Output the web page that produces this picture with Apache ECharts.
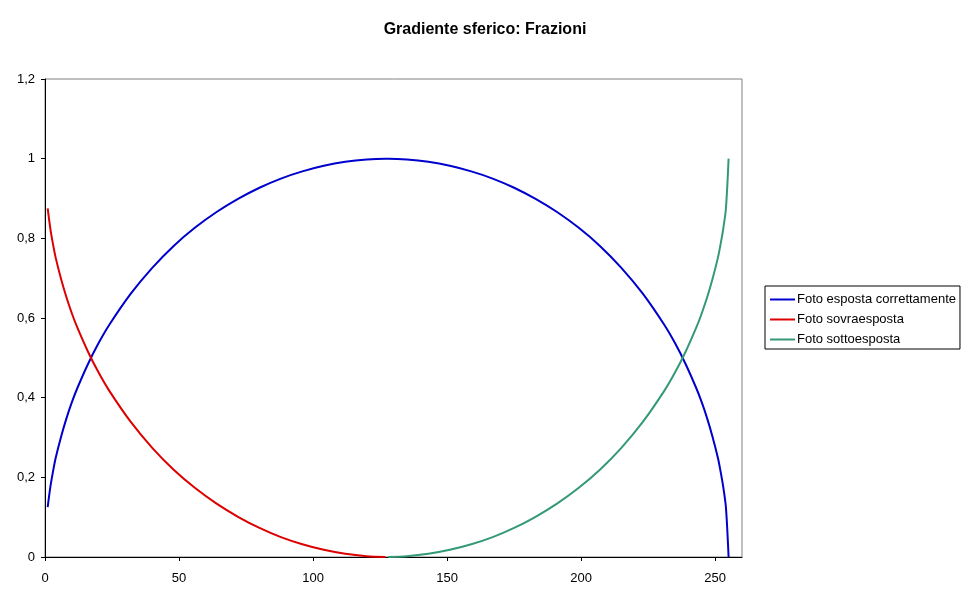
<!DOCTYPE html>
<html>
<head>
<meta charset="utf-8">
<script src="https://cdn.jsdelivr.net/npm/echarts@6/dist/echarts.min.js"></script>
<style>html,body{margin:0;padding:0;background:#fff}#c{width:970px;height:603px}</style>
</head>
<body>
<div id="c"></div>
<script>
const chartTitle = "Gradiente sferico: Frazioni";
const seriesNames = ["Foto esposta correttamente", "Foto sovraesposta", "Foto sottoesposta"];
const xTicks = [0, 50, 100, 150, 200, 250];

const blueX = [1, 2, 3, 4, 6, 8, 10, 12, 16, 20, 24, 32, 40, 48, 56, 64, 72, 80, 88, 96, 104, 112, 120, 127, 128, 135, 143, 151, 159, 167, 175, 183, 191, 199, 207, 215, 223, 231, 235, 239, 243, 245, 247, 249, 251, 252, 253, 254, 255];
const blueY = [0.125, 0.176, 0.215, 0.249, 0.302, 0.348, 0.388, 0.423, 0.484, 0.537, 0.583, 0.661, 0.726, 0.781, 0.827, 0.866, 0.899, 0.927, 0.950, 0.968, 0.982, 0.992, 0.998, 1.0, 1.0, 0.998, 0.992, 0.982, 0.968, 0.950, 0.927, 0.899, 0.866, 0.827, 0.781, 0.726, 0.661, 0.583, 0.537, 0.484, 0.423, 0.388, 0.348, 0.302, 0.249, 0.215, 0.176, 0.125, 0.0];

const redX = [1, 2, 3, 4, 6, 8, 10, 12, 16, 20, 24, 32, 40, 48, 56, 64, 72, 80, 88, 96, 104, 112, 120, 127];
const redY = [0.875, 0.824, 0.785, 0.751, 0.698, 0.652, 0.612, 0.577, 0.516, 0.463, 0.417, 0.339, 0.274, 0.219, 0.173, 0.134, 0.101, 0.073, 0.050, 0.032, 0.018, 0.008, 0.002, 0.0];

const greenX = [128, 135, 143, 151, 159, 167, 175, 183, 191, 199, 207, 215, 223, 231, 235, 239, 243, 245, 247, 249, 251, 252, 253, 254, 255];
const greenY = [0.0, 0.002, 0.008, 0.018, 0.032, 0.050, 0.073, 0.101, 0.134, 0.173, 0.219, 0.274, 0.339, 0.417, 0.463, 0.516, 0.577, 0.612, 0.652, 0.698, 0.751, 0.785, 0.824, 0.875, 1.0];

const zip = (xs, ys) => xs.map((x, i) => [x, ys[i]]);
const FONT = "'Liberation Sans', Arial, sans-serif";

const chart = echarts.init(document.getElementById('c'), null, {renderer: 'canvas'});
chart.setOption({
  animation: false,
  backgroundColor: '#fff',
  title: {
    text: chartTitle, left: 'center', top: 22, padding: 0,
    textStyle: {fontFamily: FONT, fontSize: 16, fontWeight: 'bold', color: '#000'}
  },
  legend: {
    orient: 'vertical', left: 765, top: 286,
    padding: [7, 4, 3, 5],
    borderColor: '#000', borderWidth: 1, backgroundColor: '#fff',
    itemWidth: 25, itemHeight: 2, itemGap: 7, icon: 'rect',
    textStyle: {fontFamily: FONT, fontSize: 13, color: '#000', padding: [0, 0, 0, -3], lineHeight: 13},
    data: seriesNames
  },
  grid: {left: 45, right: 228, top: 79, bottom: 46, show: true, borderColor: '#808080', borderWidth: 1, backgroundColor: '#fff'},
  xAxis: {
    type: 'value', min: 0, max: 260,
    axisLine: {lineStyle: {color: '#000', width: 1}},
    axisTick: {show: true, length: 4, lineStyle: {color: '#000'}, customValues: xTicks},
    axisLabel: {fontFamily: FONT, fontSize: 13, color: '#000', margin: 15, customValues: xTicks},
    splitLine: {show: false}
  },
  yAxis: {
    type: 'value', min: 0, max: 1.2, interval: 0.2,
    axisLine: {show: true, lineStyle: {color: '#000', width: 1}},
    axisTick: {show: true, length: 4, lineStyle: {color: '#000'}},
    axisLabel: {fontFamily: FONT, fontSize: 13, color: '#000', margin: 10,
      formatter: v => String(+v.toFixed(1)).replace('.', ',')},
    splitLine: {show: false}
  },
  series: [
    {name: seriesNames[0], type: 'line', data: zip(blueX, blueY), smooth: 0.3, showSymbol: false, color: '#0000CC', lineStyle: {width: 2}},
    {name: seriesNames[1], type: 'line', data: zip(redX, redY), smooth: 0.3, showSymbol: false, color: '#DD0000', lineStyle: {width: 2}},
    {name: seriesNames[2], type: 'line', data: zip(greenX, greenY), smooth: 0.3, showSymbol: false, color: '#339977', lineStyle: {width: 2}}
  ]
});
</script>
</body>
</html>
